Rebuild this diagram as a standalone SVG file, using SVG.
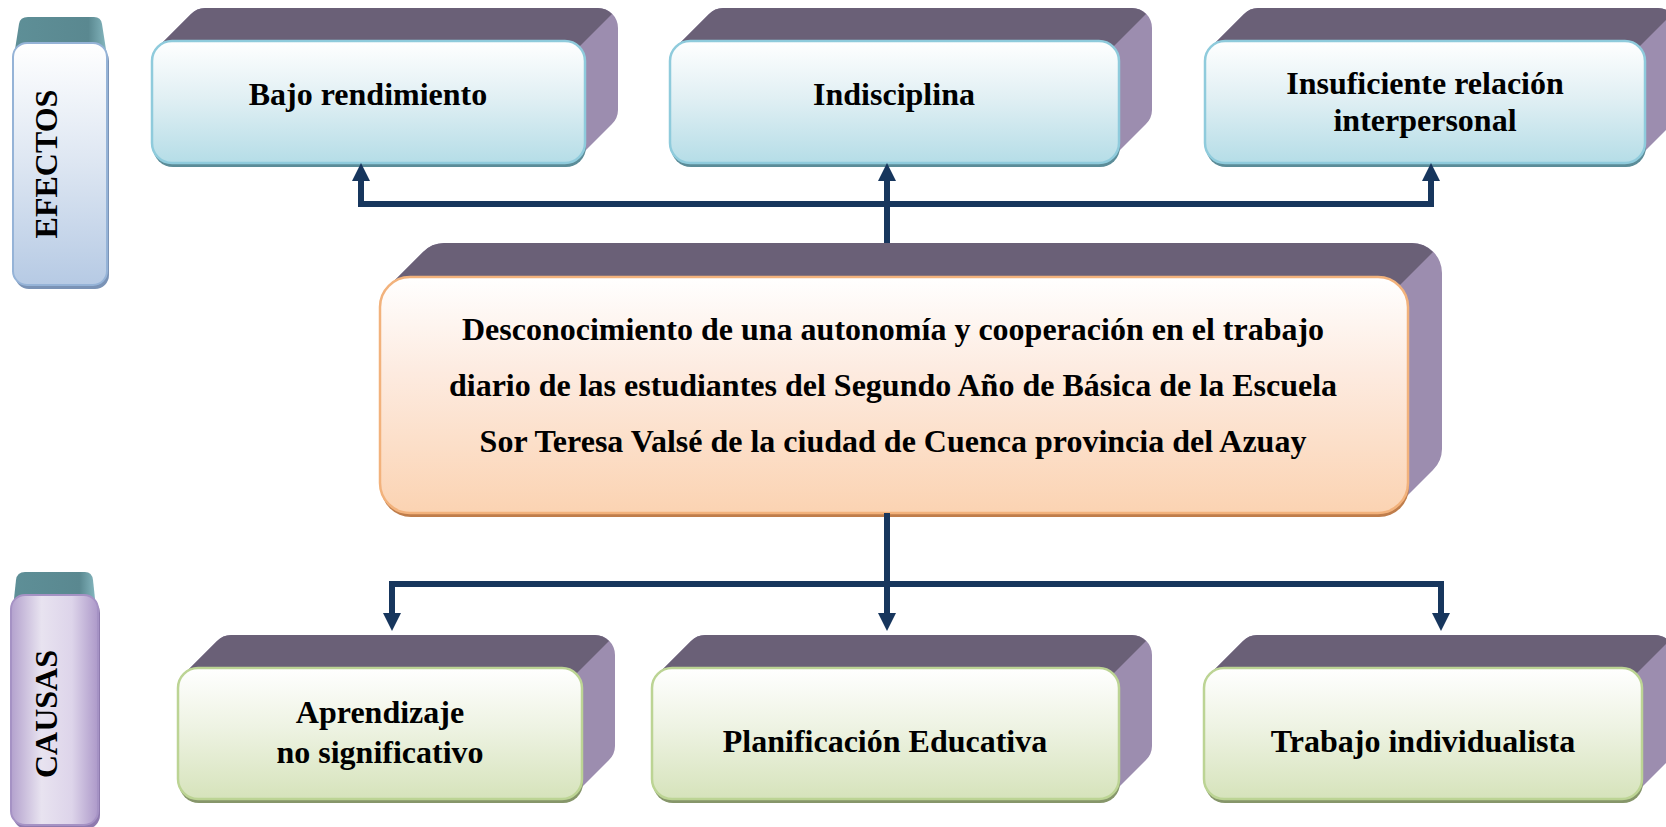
<svg xmlns="http://www.w3.org/2000/svg" width="1666" height="827" viewBox="0 0 1666 827">
<style>
.top{fill:#6a6077}
.side{fill:#9c8daf}
.fb{fill:url(#gBlue);stroke:#8fcbdc;stroke-width:2.5}
.sb{fill:#5b8c98}
.fg{fill:url(#gGreen);stroke:#bcd494;stroke-width:2.5}
.sg{fill:#86966a}
.fp{fill:url(#gPeach);stroke:#f2b27c;stroke-width:2.5}
.sp{fill:#bf7d4b}
.t{font-family:"Liberation Serif","Times New Roman",serif;font-weight:bold;font-size:32px;fill:#000;text-anchor:middle}
.con{fill:none;stroke:#17365d;stroke-width:6;stroke-linejoin:miter}
</style>
<defs>
<linearGradient id="gBlue" x1="0" y1="0" x2="0" y2="1"><stop offset="0" stop-color="#ffffff"/><stop offset="0.45" stop-color="#e2f0f4"/><stop offset="1" stop-color="#b5dde7"/></linearGradient>
<linearGradient id="gGreen" x1="0" y1="0" x2="0" y2="1"><stop offset="0" stop-color="#ffffff"/><stop offset="0.45" stop-color="#eef3e3"/><stop offset="1" stop-color="#d6e3bb"/></linearGradient>
<linearGradient id="gPeach" x1="0" y1="0" x2="0" y2="1"><stop offset="0" stop-color="#ffffff"/><stop offset="0.4" stop-color="#fdebe0"/><stop offset="1" stop-color="#fbd3b2"/></linearGradient>
<linearGradient id="gEf" x1="0" y1="0" x2="0" y2="1"><stop offset="0" stop-color="#ffffff"/><stop offset="0.5" stop-color="#dde6f2"/><stop offset="1" stop-color="#b6cae4"/></linearGradient>
<linearGradient id="gCa" x1="0" y1="0" x2="1" y2="0"><stop offset="0" stop-color="#b3a1cd"/><stop offset="0.35" stop-color="#e8e3f0"/><stop offset="0.7" stop-color="#ddd4ea"/><stop offset="1" stop-color="#ad99c9"/></linearGradient>
<linearGradient id="gTeal" x1="0" y1="0" x2="1" y2="0"><stop offset="0" stop-color="#5e8f97"/><stop offset="0.8" stop-color="#5a8890"/><stop offset="1" stop-color="#86b8c0"/></linearGradient>
<marker id="ah" viewBox="0 0 10 10" markerWidth="3" markerHeight="3" refX="0" refY="5" orient="auto-start-reverse" markerUnits="strokeWidth"><path d="M0,0 L10,5 L0,10 Z" fill="#17365d"/></marker>
</defs>

<g id="efectos">
<path d="M14,56 L19,24 Q20,17 28,17 L94,17 Q101,17 102,24 L107,56 Z" fill="url(#gTeal)"/>
<rect x="15" y="47" width="94" height="242" rx="14" fill="#7a93b6"/>
<rect x="13" y="43" width="94" height="242" rx="14" fill="url(#gEf)" stroke="#95b3d7" stroke-width="2"/>
<text class="t" transform="translate(57,164) rotate(-90)">EFECTOS</text>
</g>

<g id="causas">
<path d="M13,608 L16,580 Q17,572 25,572 L85,572 Q92,572 93,580 L96,608 Z" fill="url(#gTeal)"/>
<rect x="13" y="599" width="87" height="230" rx="14" fill="#8e7aae"/>
<rect x="11" y="595" width="87" height="230" rx="14" fill="url(#gCa)" stroke="#a592c4" stroke-width="2"/>
<text class="t" transform="translate(57,714) rotate(-90)">CAUSAS</text>
</g>

<g id="bajo-rendimiento">
<path class="side" d="M158,47 L191,14 A20 20 0 0 1 205,8 L598,8 A20 20 0 0 1 618,28 L618,110 A20 20 0 0 1 612,124 L579,157 Z"/>
<path class="top" d="M158,47 L191,14 A20 20 0 0 1 205,8 L598,8 A20 20 0 0 1 612,14 L579,47 Z"/>
<rect class="sb" x="153" y="45" width="433" height="122" rx="20"/>
<rect class="fb" x="152" y="41" width="433" height="122" rx="20"/>
<text class="t" x="368" y="105">Bajo rendimiento</text>
</g>

<g id="indisciplina">
<path class="side" d="M676,47 L709,14 A20 20 0 0 1 723,8 L1132,8 A20 20 0 0 1 1152,28 L1152,110 A20 20 0 0 1 1146,124 L1113,157 Z"/>
<path class="top" d="M676,47 L709,14 A20 20 0 0 1 723,8 L1132,8 A20 20 0 0 1 1146,14 L1113,47 Z"/>
<rect class="sb" x="671" y="45" width="449" height="122" rx="20"/>
<rect class="fb" x="670" y="41" width="449" height="122" rx="20"/>
<text class="t" x="894" y="105">Indisciplina</text>
</g>

<g id="insuficiente-relacion">
<path class="side" d="M1211,47 L1244,14 A20 20 0 0 1 1258,8 L1658,8 A20 20 0 0 1 1678,28 L1678,110 A20 20 0 0 1 1672,124 L1639,157 Z"/>
<path class="top" d="M1211,47 L1244,14 A20 20 0 0 1 1258,8 L1658,8 A20 20 0 0 1 1672,14 L1639,47 Z"/>
<rect class="sb" x="1206" y="45" width="440" height="122" rx="20"/>
<rect class="fb" x="1205" y="41" width="440" height="122" rx="20"/>
<text class="t" x="1425" y="94">Insuficiente relación</text>
<text class="t" x="1425" y="131">interpersonal</text>
</g>

<g id="problema-central">
<path class="side" d="M389,286 L423,252 A30 30 0 0 1 444,243 L1412,243 A30 30 0 0 1 1442,273 L1442,449 A30 30 0 0 1 1433,470 L1399,504 Z"/>
<path class="top" d="M389,286 L423,252 A30 30 0 0 1 444,243 L1412,243 A30 30 0 0 1 1433,252 L1399,286 Z"/>
<rect class="sp" x="381" y="281" width="1028" height="236" rx="30"/>
<rect class="fp" x="380" y="277" width="1028" height="236" rx="30"/>
<text class="t" x="893" y="340">Desconocimiento de una autonomía y cooperación en el trabajo</text>
<text class="t" x="893" y="396">diario de las estudiantes del Segundo Año de Básica de la Escuela</text>
<text class="t" x="893" y="452">Sor Teresa Valsé de la ciudad de Cuenca provincia del Azuay</text>
</g>

<g id="aprendizaje">
<path class="side" d="M184,674 L217,641 A20 20 0 0 1 231,635 L595,635 A20 20 0 0 1 615,655 L615,746 A20 20 0 0 1 609,760 L576,793 Z"/>
<path class="top" d="M184,674 L217,641 A20 20 0 0 1 231,635 L595,635 A20 20 0 0 1 609,641 L576,674 Z"/>
<rect class="sg" x="179" y="672" width="404" height="131" rx="20"/>
<rect class="fg" x="178" y="668" width="404" height="131" rx="20"/>
<text class="t" x="380" y="723">Aprendizaje</text>
<text class="t" x="380" y="763">no significativo</text>
</g>

<g id="planificacion">
<path class="side" d="M658,674 L691,641 A20 20 0 0 1 705,635 L1132,635 A20 20 0 0 1 1152,655 L1152,746 A20 20 0 0 1 1146,760 L1113,793 Z"/>
<path class="top" d="M658,674 L691,641 A20 20 0 0 1 705,635 L1132,635 A20 20 0 0 1 1146,641 L1113,674 Z"/>
<rect class="sg" x="653" y="672" width="467" height="131" rx="20"/>
<rect class="fg" x="652" y="668" width="467" height="131" rx="20"/>
<text class="t" x="885" y="752">Planificación Educativa</text>
</g>

<g id="trabajo-individualista">
<path class="side" d="M1210,674 L1243,641 A20 20 0 0 1 1257,635 L1655,635 A20 20 0 0 1 1675,655 L1675,746 A20 20 0 0 1 1669,760 L1636,793 Z"/>
<path class="top" d="M1210,674 L1243,641 A20 20 0 0 1 1257,635 L1655,635 A20 20 0 0 1 1669,641 L1636,674 Z"/>
<rect class="sg" x="1205" y="672" width="438" height="131" rx="20"/>
<rect class="fg" x="1204" y="668" width="438" height="131" rx="20"/>
<text class="t" x="1423" y="752">Trabajo individualista</text>
</g>

<g id="connectors">
<path class="con" d="M887,243 L887,181" marker-end="url(#ah)"/>
<path class="con" d="M361,181 L361,204 L1431,204 L1431,181" marker-start="url(#ah)" marker-end="url(#ah)"/>
<path class="con" d="M887,513 L887,613" marker-end="url(#ah)"/>
<path class="con" d="M392,613 L392,584 L1441,584 L1441,613" marker-start="url(#ah)" marker-end="url(#ah)"/>
</g>
</svg>
